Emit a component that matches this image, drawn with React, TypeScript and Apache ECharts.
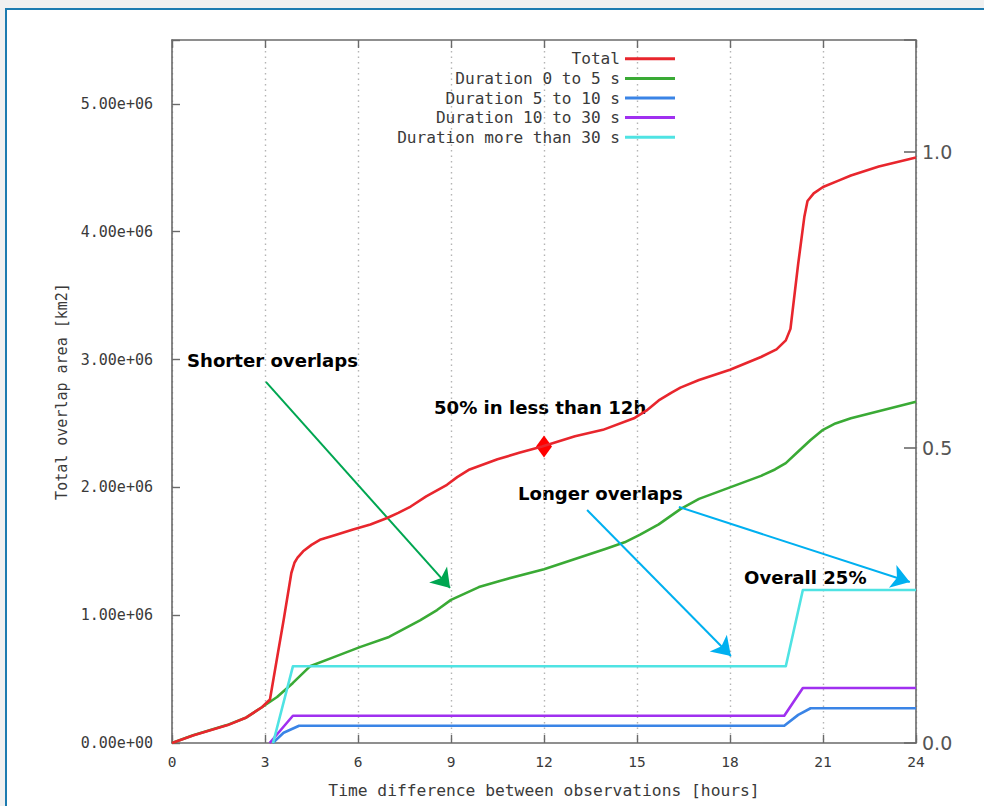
import React, { useEffect, useRef } from 'react';
import * as echarts from 'echarts';

const seriesNames = [
  'Total',
  'Duration 0 to 5 s',
  'Duration 5 to 10 s',
  'Duration 10 to 30 s',
  'Duration more than 30 s',
];

const totalHours = [0, 0.7, 1.8, 2.4, 2.9, 3.16, 3.4, 3.6, 3.85, 3.95, 4.05, 4.23, 4.5, 4.77, 5.3, 5.84, 6.4, 6.94, 7.3, 7.7, 8.2, 8.87, 9.2, 9.6, 10.5, 11.2, 11.94, 13, 13.9, 14.9, 15.3, 15.7, 16.1, 16.4, 17, 18, 19, 19.5, 19.8, 19.95, 20.2, 20.4, 20.5, 20.7, 21, 21.5, 21.9, 22.8, 24];
const totalValues = [0, 0.06e6, 0.14e6, 0.2e6, 0.28e6, 0.34e6, 0.68e6, 0.96e6, 1.33e6, 1.41e6, 1.45e6, 1.5e6, 1.55e6, 1.59e6, 1.63e6, 1.67e6, 1.71e6, 1.76e6, 1.8e6, 1.85e6, 1.93e6, 2.02e6, 2.08e6, 2.14e6, 2.22e6, 2.27e6, 2.32e6, 2.4e6, 2.45e6, 2.54e6, 2.6e6, 2.68e6, 2.74e6, 2.78e6, 2.84e6, 2.92e6, 3.02e6, 3.08e6, 3.15e6, 3.24e6, 3.75e6, 4.12e6, 4.24e6, 4.3e6, 4.35e6, 4.4e6, 4.44e6, 4.51e6, 4.58e6];

const shortHours = [0, 0.68, 1.77, 2.4, 2.9, 3.39, 3.9, 4.45, 5.2, 6.06, 7, 8, 8.55, 9, 9.9, 10.6, 12, 13, 14, 14.6, 15.1, 15.7, 16.4, 17, 18, 19, 19.45, 19.8, 20.2, 20.6, 21, 21.4, 21.9, 24];
const shortValues = [0, 0.06e6, 0.14e6, 0.2e6, 0.28e6, 0.36e6, 0.47e6, 0.6e6, 0.67e6, 0.75e6, 0.83e6, 0.96e6, 1.04e6, 1.12e6, 1.22e6, 1.27e6, 1.36e6, 1.44e6, 1.52e6, 1.57e6, 1.63e6, 1.71e6, 1.83e6, 1.91e6, 2.0e6, 2.09e6, 2.14e6, 2.19e6, 2.28e6, 2.37e6, 2.45e6, 2.5e6, 2.54e6, 2.67e6];

const midHours = [3.25, 3.6, 4.1, 19.75, 20.2, 20.6, 24];
const midValues = [0, 0.08e6, 0.135e6, 0.135e6, 0.22e6, 0.272e6, 0.272e6];

const longHours = [3.15, 3.9, 19.75, 20.35, 24];
const longValues = [0, 0.213e6, 0.213e6, 0.43e6, 0.43e6];

const veryLongHours = [3.26, 3.9, 19.8, 20.35, 24];
const veryLongValues = [0, 0.6e6, 0.6e6, 1.197e6, 1.197e6];

const colors = ['#e8262d', '#3aaa35', '#3a84e6', '#a030f0', '#4fe3e3'];

// annotations (data coordinates)
const halfPoint = [12, 2.32e6];
const greenArrow = [[3.03, 2.825e6], [8.97, 1.213e6]];
const blueArrows = [
  [[13.39, 1.823e6], [18.03, 0.681e6]],
  [[16.35, 1.847e6], [23.8, 1.26e6]],
];

const MONO = '"DejaVu Sans Mono", monospace';
const SANS = '"DejaVu Sans", Verdana, sans-serif';
const TXT = '#3a3a3a';
const AXIS = '#6a6a6a';

function pairs(h: number[], v: number[]) {
  return h.map((x, i) => [x, v[i]]);
}

function expLabel(v: number) {
  if (Math.abs(v % 1e6) > 1) return '';
  if (v === 0) return '0.00e+00';
  const e = Math.floor(Math.log10(v));
  const m = v / Math.pow(10, e);
  return `${m.toFixed(2)}e+${String(e).padStart(2, '0')}`;
}

export default function App() {
  const ref = useRef<HTMLDivElement>(null);
  useEffect(() => {
    if (!ref.current) return;
    const chart = echarts.init(ref.current, null, { renderer: 'svg' });
    const mkSeries = (i: number, h: number[], v: number[], extra: any = {}) => ({
      name: seriesNames[i],
      type: 'line',
      data: pairs(h, v),
      showSymbol: false,
      symbol: 'none',
      lineStyle: { color: colors[i], width: 2.6, join: 'round' },
      itemStyle: { color: colors[i] },
      emphasis: { disabled: true },
      ...extra,
    });
    const arrowLine = (seg: number[][], color: string) => [
      { coord: seg[0], lineStyle: { color, width: 2, type: 'solid' } },
      { coord: seg[1] },
    ];
    const annText = (x: number, y: number, text: string) => ({
      type: 'text', x, y,
      style: { text, fontFamily: SANS, fontWeight: 'bold', fontSize: 18.1, fill: '#000', verticalAlign: 'middle' },
    });
    const axisLine = { show: true, onZero: false, lineStyle: { color: AXIS, width: 1.6 } };
    chart.setOption({
      animation: false,
      grid: { left: 172, right: 68, top: 40, bottom: 63 },
      legend: {
        data: seriesNames,
        orient: 'vertical',
        right: 304,
        top: 44,
        align: 'right',
        icon: 'rect',
        itemWidth: 50,
        itemHeight: 3,
        itemGap: 0,
        selectedMode: false,
        textStyle: { fontFamily: MONO, fontSize: 16.1, color: TXT, lineHeight: 19.6 },
      },
      xAxis: [
        {
          type: 'value', min: 0, max: 24, interval: 3, position: 'bottom',
          name: 'Time difference between observations [hours]',
          nameLocation: 'middle', nameGap: 39,
          nameTextStyle: { fontFamily: MONO, fontSize: 16.3, color: TXT },
          axisLine,
          axisTick: { show: true, inside: true, length: 8, lineStyle: { color: AXIS, width: 1.4 } },
          axisLabel: { fontFamily: MONO, fontSize: 14.5, color: TXT, margin: 11 },
          splitLine: { show: true, lineStyle: { color: '#b4b4b4', width: 1.4, type: [1.5, 4] } },
        },
        {
          type: 'value', min: 0, max: 24, interval: 3, position: 'top',
          axisLine,
          axisTick: { show: true, inside: true, length: 8, lineStyle: { color: AXIS, width: 1.4 } },
          axisLabel: { show: false },
          splitLine: { show: false },
        },
      ],
      yAxis: [
        {
          type: 'value', min: 0, max: 5.5e6, interval: 1e6, position: 'left',
          name: 'Total overlap area [km2]', nameLocation: 'middle', nameGap: 102, nameRotate: 90,
          nameTextStyle: { fontFamily: MONO, fontSize: 15, color: TXT },
          axisLine,
          axisTick: { show: true, inside: true, length: 8, lineStyle: { color: AXIS, width: 1.4 } },
          axisLabel: { formatter: expLabel, fontFamily: MONO, fontSize: 15, color: TXT, margin: 19 },
          splitLine: { show: false },
        },
        {
          type: 'value', min: 0, max: 1.19, interval: 0.5, position: 'right',
          axisLine,
          axisTick: { show: true, inside: true, length: 12, lineStyle: { color: AXIS, width: 1.6 } },
          axisLabel: {
            formatter: (v: number) => (v <= 1.0001 && Math.abs(v * 2 - Math.round(v * 2)) < 1e-6 ? v.toFixed(1) : ''),
            fontFamily: SANS, fontSize: 19, color: '#555', margin: 6,
          },
          splitLine: { show: false },
        },
      ],
      series: [
        mkSeries(0, totalHours, totalValues, {
          z: 5,
          markPoint: {
            silent: true,
            symbol: 'diamond',
            symbolSize: [16, 22],
            itemStyle: { color: '#ff0000' },
            label: { show: false },
            data: [{ coord: halfPoint }],
          },
        }),
        mkSeries(1, shortHours, shortValues, {
          markLine: {
            silent: true,
            symbol: ['none', 'arrow'],
            symbolSize: 18,
            label: { show: false },
            emphasis: { disabled: true },
            lineStyle: { color: '#00a651', width: 2, type: 'solid' },
            data: [arrowLine(greenArrow, '#00a651')],
          },
        }),
        mkSeries(2, midHours, midValues),
        mkSeries(3, longHours, longValues),
        mkSeries(4, veryLongHours, veryLongValues, {
          markLine: {
            silent: true,
            symbol: ['none', 'arrow'],
            symbolSize: 18,
            label: { show: false },
            emphasis: { disabled: true },
            lineStyle: { color: '#00b0f0', width: 2, type: 'solid' },
            data: blueArrows.map((s) => arrowLine(s, '#00b0f0')),
          },
        }),
      ],
      graphic: [
        annText(187, 360, 'Shorter overlaps'),
        annText(434, 407, '50% in less than 12h'),
        annText(518, 493, 'Longer overlaps'),
        annText(744, 577, 'Overall 25%'),
      ],
    });
    return () => chart.dispose();
  }, []);

  return (
    <div style={{ position: 'fixed', left: 0, top: 0, width: 984, height: 806, background: '#f0f0f0', overflow: 'hidden' }}>
      <div style={{ position: 'absolute', left: 5, top: 8, width: 1010, height: 830, border: '2px solid #1c7bb0', background: '#fff' }} />
      <div ref={ref} style={{ position: 'absolute', left: 0, top: 0, width: 984, height: 806 }} />
    </div>
  );
}
